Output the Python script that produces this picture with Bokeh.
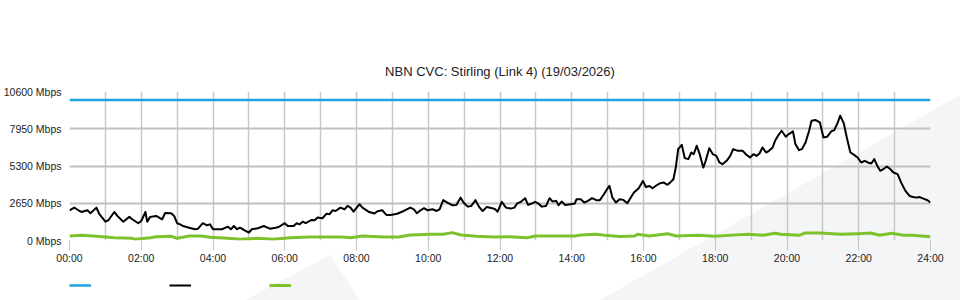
from bokeh.plotting import figure
from bokeh.layouts import column
from bokeh.models import FixedTicker, Legend, LegendItem, Range1d
from bokeh.embed import file_html
from bokeh.resources import INLINE

# ---------------- data ----------------
title_text = "NBN CVC: Stirling (Link 4) (19/03/2026)"

y_ticks = [0, 2650, 5300, 7950, 10600]
y_tick_labels = ["0 Mbps", "2650 Mbps", "5300 Mbps", "7950 Mbps", "10600 Mbps"]

x_ticks = [0, 2, 4, 6, 8, 10, 12, 14, 16, 18, 20, 22, 24]
x_tick_labels = ["00:00", "02:00", "04:00", "06:00", "08:00", "10:00", "12:00",
                 "14:00", "16:00", "18:00", "20:00", "22:00", "24:00"]

capacity_times = ["00:00", "24:00"]
capacity_mbps = [10000, 10000]

traffic_times = [
    "00:00", "00:08", "00:15", "00:20", "00:30", "00:35", "00:45", "00:50", "01:00", "01:05",
    "01:15", "01:20", "01:30", "01:40", "01:45", "01:55", "02:00", "02:07", "02:10", "02:15",
    "02:25", "02:35", "02:40", "02:50", "02:55", "03:00", "03:05", "03:10", "03:20", "03:30",
    "03:35", "03:43", "03:50", "03:55", "04:00", "04:15", "04:25", "04:30", "04:35", "04:40",
    "04:45", "04:50", "05:00", "05:05", "05:15", "05:25", "05:35", "05:45", "05:50", "06:00",
    "06:05", "06:15", "06:20", "06:25", "06:30", "06:35", "06:45", "06:50", "06:55", "07:03",
    "07:10", "07:15", "07:20", "07:25", "07:33", "07:40", "07:45", "07:50", "07:55", "08:05",
    "08:10", "08:20", "08:30", "08:35", "08:43", "08:50", "08:57", "09:08", "09:19", "09:30",
    "09:36", "09:41", "09:47", "09:53", "09:59", "10:07", "10:14", "10:19", "10:25", "10:32",
    "10:40", "10:47", "10:54", "10:59", "11:06", "11:12", "11:19", "11:25", "11:31", "11:38",
    "11:47", "11:52", "11:56", "12:03", "12:10", "12:18", "12:24", "12:29", "12:35", "12:42",
    "12:47", "12:53", "12:59", "13:04", "13:10", "13:17", "13:23", "13:28", "13:34", "13:38",
    "13:43", "13:49", "13:58", "14:05", "14:08", "14:15", "14:21", "14:27", "14:34", "14:41",
    "14:47", "14:53", "14:59", "15:03", "15:08", "15:14", "15:20", "15:26", "15:33", "15:38",
    "15:44", "15:52", "15:59", "16:04", "16:10", "16:15", "16:22", "16:28", "16:34", "16:40",
    "16:44", "16:50", "16:54", "16:58", "17:04", "17:09", "17:15", "17:20", "17:24", "17:29",
    "17:34", "17:40", "17:44", "17:50", "17:56", "18:02", "18:07", "18:12", "18:19", "18:25",
    "18:30", "18:38", "18:46", "18:52", "18:58", "19:04", "19:09", "19:14", "19:19", "19:25",
    "19:30", "19:36", "19:40", "19:45", "19:51", "19:58", "20:03", "20:10", "20:14", "20:20",
    "20:25", "20:31", "20:37", "20:41", "20:48", "20:55", "21:01", "21:07", "21:14", "21:19",
    "21:25", "21:29", "21:35", "21:40", "21:46", "21:53", "21:58", "22:04", "22:10", "22:15",
    "22:21", "22:26", "22:31", "22:36", "22:41", "22:47", "22:53", "22:58", "23:05", "23:11",
    "23:18", "23:25", "23:31", "23:37", "23:41", "23:48", "23:55", "24:00",
]
traffic_mbps = [
    2150, 2340, 2150, 2030, 2150, 1940, 2340, 1870, 1340, 1440,
    2030, 1750, 1340, 1680, 1510, 1230, 1390, 2030, 1340, 1680,
    1750, 1510, 1960, 1940, 1750, 1230, 1150, 1030, 910, 800,
    840, 1230, 1080, 1150, 800, 800, 985, 800, 1030, 800,
    910, 800, 560, 800, 870, 1030, 840, 910, 960, 1230,
    1030, 1030, 1230, 1150, 1340, 1230, 1460, 1440, 1630, 1580,
    1910, 1870, 2150, 2100, 2340, 2220, 2460, 2340, 2050, 2580,
    2340, 2050, 1920, 2080, 2150, 1820, 1820, 1900, 2100, 2340,
    2220, 1940, 2150, 2300, 2150, 2220, 2100, 2220, 2870, 2700,
    2510, 2530, 3050, 2700, 2410, 2460, 2870, 2390, 2100, 2390,
    2300, 2220, 2050, 2750, 2340, 2270, 2340, 2650, 2750, 3010,
    2530, 2630, 2750, 2630, 2410, 2460, 3010, 2770, 2820, 2510,
    2770, 2530, 2580, 2630, 2940, 2940, 2700, 2820, 3010, 2870,
    2870, 3240, 3650, 3890, 3050, 2700, 2940, 2890, 2650, 3010,
    3410, 3720, 4240, 3810, 3880, 3720, 3930, 4080, 4120, 3960,
    4100, 4360, 5190, 6500, 6810, 5860, 5790, 6260, 6140, 6740,
    6140, 5190, 5670, 6570, 6140, 6020, 5550, 5430, 5670, 6020,
    6500, 6380, 6380, 6100, 5910, 6140, 6020, 6190, 6620, 6260,
    6380, 6620, 7090, 7450, 7810, 7380, 7570, 7760, 6860, 6430,
    6500, 6970, 7810, 8520, 8570, 8400, 7330, 7380, 7760, 7850,
    8400, 8880, 8330, 7330, 6260, 6070, 5910, 5550, 5670, 5550,
    5480, 5790, 5310, 4960, 5070, 5260, 5070, 4840, 4720, 4120,
    3530, 3170, 3100, 3050, 3100, 2980, 2860, 2700,
]

upload_times = [
    "00:00", "00:20", "00:40", "01:15", "01:45", "01:50", "02:15", "02:25", "02:50", "03:00",
    "03:20", "03:40", "03:55", "04:25", "04:45", "05:15", "05:40", "06:10", "06:40", "07:05",
    "07:35", "07:50", "08:10", "08:45", "09:10", "09:30", "10:05", "10:25", "10:40", "10:55",
    "11:20", "11:50", "12:15", "12:45", "13:00", "13:40", "14:05", "14:15", "14:40", "14:55",
    "15:20", "15:45", "15:50", "16:10", "16:40", "16:55", "17:30", "18:00", "18:35", "18:55",
    "19:20", "19:40", "19:50", "20:20", "20:30", "20:55", "21:30", "22:00", "22:20", "22:35",
    "22:55", "23:15", "23:30", "23:45", "24:00",
]
upload_mbps = [
    320, 370, 320, 200, 155, 85, 200, 270, 300, 155,
    320, 320, 230, 155, 85, 155, 85, 200, 250, 250,
    250, 200, 320, 250, 250, 390, 440, 440, 560, 390,
    300, 250, 270, 200, 320, 320, 320, 390, 440, 370,
    280, 320, 440, 320, 485, 320, 370, 300, 400, 440,
    370, 510, 440, 370, 530, 530, 440, 485, 530, 370,
    510, 370, 370, 320, 270,
]

series_colors = ["#1ea4e0", "#000000", "#7dc22c"]
series_widths = [2.5, 2, 3]


def to_hours(t):
    h, m = t.split(":")
    return int(h) + int(m) / 60.0


series_x = [[to_hours(t) for t in capacity_times],
            [to_hours(t) for t in traffic_times],
            [to_hours(t) for t in upload_times]]
series_y = [capacity_mbps, traffic_mbps, upload_mbps]

# ---------------- main figure ----------------
p = figure(
    width=960, height=270,
    output_backend="svg", toolbar_location=None,
    x_range=Range1d(0, 24), y_range=Range1d(0, 10600),
    min_border_left=69, min_border_right=30, min_border_top=91, min_border_bottom=30,
)
p.background_fill_color = None
p.border_fill_color = None
p.outline_line_color = None

p.title.text = title_text
p.title.align = "center"
p.title.text_font = "Liberation Sans"
p.title.text_font_size = "13px"
p.title.text_font_style = "normal"
p.title.text_color = "#222222"
p.title.standoff = 26

p.xaxis.ticker = FixedTicker(ticks=x_ticks)
p.xaxis.major_label_overrides = {t: l for t, l in zip(x_ticks, x_tick_labels)}
p.xaxis.axis_line_color = None
p.xaxis.major_tick_line_color = "#c4c4c4"
p.xaxis.major_tick_out = 10
p.xaxis.major_tick_in = 0
p.xaxis.minor_tick_line_color = None
p.xaxis.major_label_standoff = 1
p.xaxis.major_label_text_font = "Liberation Sans"
p.xaxis.major_label_text_font_size = "10.5px"
p.xaxis.major_label_text_color = "#222222"

p.yaxis.ticker = FixedTicker(ticks=y_ticks)
p.yaxis.major_label_overrides = {t: l for t, l in zip(y_ticks, y_tick_labels)}
p.yaxis.axis_line_color = None
p.yaxis.major_tick_line_color = None
p.yaxis.major_tick_out = 0
p.yaxis.major_tick_in = 0
p.yaxis.minor_tick_line_color = None
p.yaxis.major_label_standoff = 8
p.yaxis.major_label_text_font = "Liberation Sans"
p.yaxis.major_label_text_font_size = "10.5px"
p.yaxis.major_label_text_color = "#222222"

p.xgrid.ticker = FixedTicker(ticks=list(range(0, 25)))
p.xgrid.grid_line_color = "#c8c8c8"
p.xgrid.grid_line_width = 1.5
p.ygrid.ticker = FixedTicker(ticks=y_ticks)
p.ygrid.grid_line_color = "#c0c0c0"
p.ygrid.grid_line_width = 2

for xs, ys, c, w in zip(series_x, series_y, series_colors, series_widths):
    p.line(xs, ys, line_color=c, line_width=w, line_join="round")

# ---------------- legend strip (same series, ranges out of view) ----------------
q = figure(
    width=960, height=30,
    output_backend="svg", toolbar_location=None,
    x_range=Range1d(0, 24), y_range=Range1d(-20000, -10000),
    x_axis_location=None, y_axis_location=None,
    min_border_left=69, min_border_right=30, min_border_top=0, min_border_bottom=0,
)
q.background_fill_color = None
q.border_fill_color = None
q.outline_line_color = None
q.xgrid.visible = False
q.ygrid.visible = False
items = []
for xs, ys, c, w in zip(series_x, series_y, series_colors, series_widths):
    r = q.line(xs, ys, line_color=c, line_width=w)
    items.append(LegendItem(label=" ", renderers=[r]))
legend = Legend(
    items=items, orientation="horizontal", location="top_left",
    glyph_width=22, glyph_height=30, label_width=78, label_standoff=0,
    spacing=0, padding=0, margin=0,
    border_line_color=None, background_fill_alpha=0,
    label_text_font_size="10px",
)
q.add_layout(legend, "center")

# ---------------- page ----------------
watermark_svg = (
    "<svg xmlns='http://www.w3.org/2000/svg' width='960' height='300'>"
    "<polygon points='600,300 960,95 960,300' fill='%23f4f5f7'/>"
    "<polygon points='245,300 330,255 360,300' fill='%23f4f5f7'/>"
    "</svg>"
)
page = column(p, q, spacing=0)
page.styles = {
    "background-image": f'url("data:image/svg+xml;utf8,{watermark_svg}")',
    "background-repeat": "no-repeat",
}

open("out.html", "w").write(file_html(page, INLINE))
